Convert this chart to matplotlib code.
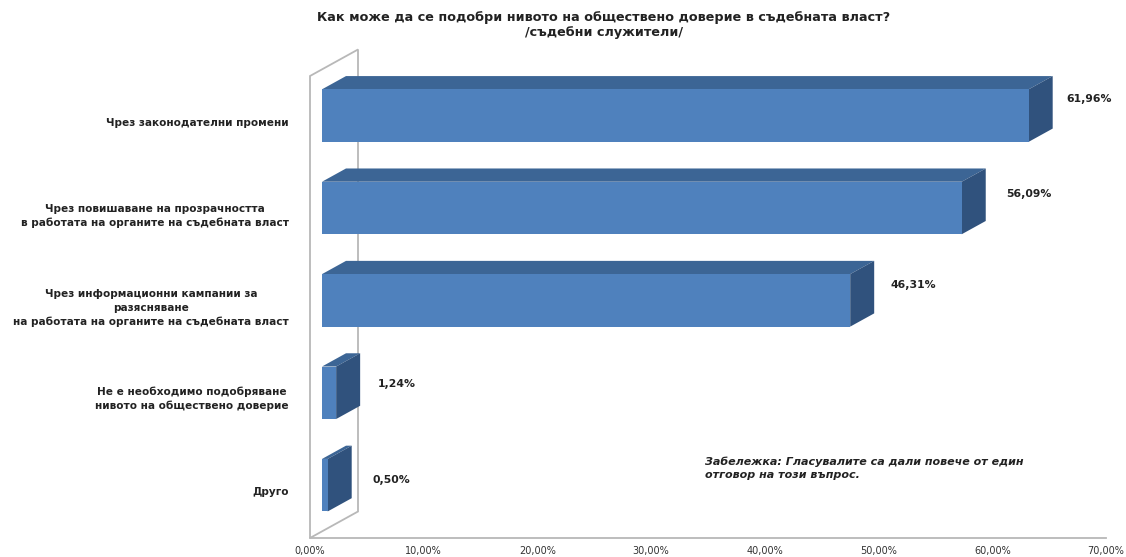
import matplotlib
matplotlib.use('Agg')
import matplotlib.pyplot as plt
from matplotlib.patches import Polygon

categories = [
    'Чрез законодателни промени',
    'Чрез повишаване на прозрачността\nв работата на органите на съдебната власт',
    'Чрез информационни кампании за\nразясняване\nна работата на органите на съдебната власт',
    'Не е необходимо подобряване\nнивото на обществено доверие',
    'Друго',
]
values = [61.96, 56.09, 46.31, 1.24, 0.50]
value_labels = ['61,96%', '56,09%', '46,31%', '1,24%', '0,50%']
ticks = [0, 10, 20, 30, 40, 50, 60, 70]
tick_labels = ['0,00%', '10,00%', '20,00%', '30,00%', '40,00%', '50,00%', '60,00%', '70,00%']

W, H = 1126, 557
plt.rcParams['font.family'] = ['DejaVu Sans']

fig = plt.figure(figsize=(W / 100, H / 100), dpi=100)
ax = fig.add_axes([310 / W, 1 - 538 / H, (1106 - 310) / W, (538 - 76) / H])
ax.set_xlim(0, 70)
ax.set_ylim(4.5, -0.5)
ax.axis('off')

# depth of the fake 3d box, in data units
px_x = 70 / (1106 - 310)
px_y = 5 / (538 - 76)
dx = 48 * px_x
dy = -26.5 * px_y
bar_h = 52.5 * px_y
scale = 1.003

wall = '#b8b8b8'
# floor line, side wall
ax.plot([0, 70], [4.5, 4.5], color=wall, lw=1.3, clip_on=False)
ax.add_patch(Polygon([(0, 4.5), (0, -0.5), (dx, -0.5 + dy), (dx, 4.5 + dy)],
                     closed=True, fc='white', ec=wall, lw=1.3, clip_on=False))

for i, v in enumerate(values):
    x0 = dx / 4
    yc = i + dy / 4
    y0, y1 = yc - bar_h / 2, yc + bar_h / 2
    x1 = x0 + v * scale
    bx, by = dx / 2, dy / 2
    ax.add_patch(Polygon([(x0, y0), (x1, y0), (x1 + bx, y0 + by), (x0 + bx, y0 + by)],
                         closed=True, fc='#3c6595', ec='none', clip_on=False, zorder=3))
    ax.add_patch(Polygon([(x1, y0), (x1 + bx, y0 + by), (x1 + bx, y1 + by), (x1, y1)],
                         closed=True, fc='#30527d', ec='none', clip_on=False, zorder=3))
    ax.add_patch(Polygon([(x0, y0), (x1, y0), (x1, y1), (x0, y1)],
                         closed=True, fc='#4f81bd', ec='none', clip_on=False, zorder=4))

# value labels, offset from the end of the bar (pixels)
label_off = [(14, -23), (20, -26), (16, -24), (18, -31), (21, -34)]
for i, v in enumerate(values):
    x1 = dx / 4 + v * scale + dx / 2
    yc = i + dy / 4 + dy / 2 - bar_h / 2
    ax.annotate(value_labels[i], (x1, yc), xytext=label_off[i], textcoords='offset pixels',
                ha='left', va='center', fontsize=7.8, fontweight='bold', color='#222222',
                annotation_clip=False)

# category labels
label_y = [123, 216, 308, 399, 492]
for name, y in zip(categories, label_y):
    fig.text(289 / W, 1 - y / H, name, ha='right', va='center', ma='center',
             fontsize=7.6, fontweight='bold', color='#222222', linespacing=1.4)

for t, lab in zip(ticks, tick_labels):
    ax.text(t, 4.5 + 8 * px_y, lab, ha='center', va='top', fontsize=7, color='#333333', clip_on=False)

fig.text(604 / W, 1 - 25 / H, 'Как може да се подобри нивото на обществено доверие в съдебната власт?\n/съдебни служители/',
         ha='center', va='center', ma='center', fontsize=9.2, fontweight='bold', color='#222222', linespacing=1.27)

fig.text(705 / W, 1 - 468 / H, 'Забележка: Гласувалите са дали повече от един\nотговор на този въпрос.',
         ha='left', va='center', fontsize=8, fontweight='bold', fontstyle='italic', color='#222222', linespacing=1.4)

fig.savefig('out.png', dpi=100)
